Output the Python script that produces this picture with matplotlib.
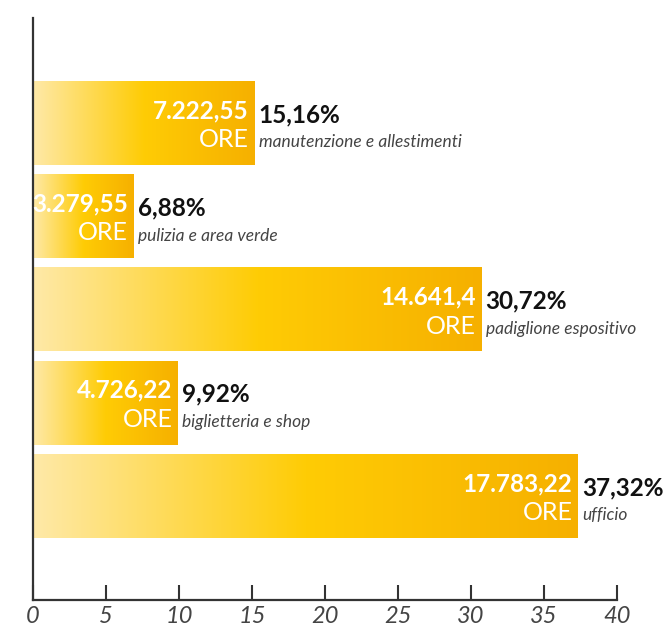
#!/usr/bin/env python3
"""Ore lavorate per area: barre orizzontali con gradiente"""
import matplotlib
matplotlib.use('Agg')
import matplotlib.pyplot as plt
import numpy as np
from matplotlib.colors import LinearSegmentedColormap

categories = ['manutenzione e allestimenti', 'pulizia e area verde',
              'padiglione espositivo', 'biglietteria e shop', 'ufficio']
hours_labels = ['7.222,55', '3.279,55', '14.641,4', '4.726,22', '17.783,22']
percentages = [15.16, 6.88, 30.72, 9.92, 37.32]
x_ticks = [0, 5, 10, 15, 20, 25, 30, 35, 40]

FONT = 'Lato'
grad = LinearSegmentedColormap.from_list(
    'giallo', [(0.0, '#FEE9A8'), (0.5, '#FFCC05'), (1.0, '#F6B000')])

fig = plt.figure(figsize=(6.68, 6.32), dpi=100)
ax = fig.add_axes([0.0494, 0.0506, 0.8743, 0.9209])

bar_h = 0.9
ramp = np.linspace(0, 1, 256).reshape(1, -1)
for i, (pct, hrs, cat) in enumerate(zip(percentages, hours_labels, categories)):
    ax.imshow(ramp, cmap=grad, aspect='auto', interpolation='bilinear',
              extent=[0, pct, i + bar_h / 2, i - bar_h / 2], zorder=2)
    ax.annotate(hrs, xy=(pct, i), xytext=(-4, 9), textcoords='offset points',
                ha='right', va='center', color='white', fontsize=17.5,
                fontweight='bold', family=FONT, zorder=3)
    ax.annotate('ORE', xy=(pct, i), xytext=(-4, -12), textcoords='offset points',
                ha='right', va='center', color='white', fontsize=18,
                fontweight='normal', family=FONT, zorder=3)
    ax.annotate(f'{pct:.2f}%'.replace('.', ','), xy=(pct, i), xytext=(3, 6),
                textcoords='offset points', ha='left', va='center',
                color='#111111', fontsize=17.5, fontweight='bold', family=FONT)
    ax.annotate(cat, xy=(pct, i), xytext=(3, -14), textcoords='offset points',
                ha='left', va='center', color='#444444', fontsize=12.5,
                style='italic', fontweight='normal', family=FONT)

ax.set_xlim(0, 40)
ax.set_ylim(len(categories) - 1 + 1.115, -1.125)
ax.set_xticks(x_ticks)
ax.set_xticklabels([str(t) for t in x_ticks], family=FONT, style='italic',
                   fontweight='normal', fontsize=17, color='#444444')
ax.set_yticks([])
ax.tick_params(axis='x', direction='in', length=11, width=1.5, color='#333333', pad=4)
for side in ['top', 'right']:
    ax.spines[side].set_visible(False)
for side in ['left', 'bottom']:
    ax.spines[side].set_color('#333333')
    ax.spines[side].set_linewidth(1.6)

plt.savefig('out.png', dpi=100)
plt.close()
